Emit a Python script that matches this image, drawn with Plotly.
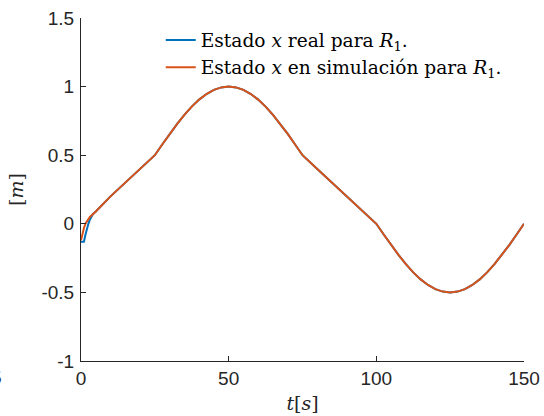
import plotly.graph_objects as go

# Time samples (s) and state values (m)
t_real = [0, 0.5, 1, 1.5, 2, 2.5, 3, 3.5, 4, 5, 10, 15, 20, 25,
          27.5, 30, 32.5, 35, 37.5, 40, 42.5, 45, 47.5, 50,
          52.5, 55, 57.5, 60, 62.5, 65, 67.5, 70, 72.5, 75,
          80, 85, 90, 95, 100,
          102.5, 105, 107.5, 110, 112.5, 115, 117.5, 120, 122.5, 125,
          127.5, 130, 132.5, 135, 137.5, 140, 142.5, 145, 147.5, 150]
x_real = [-0.13, -0.13, -0.13, -0.08, -0.03, 0.0, 0.03, 0.05, 0.07, 0.09, 0.2, 0.3, 0.4, 0.5,
          0.578, 0.655, 0.727, 0.794, 0.854, 0.905, 0.946, 0.976, 0.994, 1.0,
          0.994, 0.976, 0.946, 0.905, 0.854, 0.794, 0.727, 0.655, 0.578, 0.5,
          0.4, 0.3, 0.2, 0.1, 0.0,
          -0.078, -0.155, -0.227, -0.294, -0.354, -0.405, -0.446, -0.476, -0.494, -0.5,
          -0.494, -0.476, -0.446, -0.405, -0.354, -0.294, -0.227, -0.155, -0.078, 0.0]

t_sim = [0, 0.5, 1, 1.5, 2, 3, 4, 5, 10, 15, 20, 25,
         27.5, 30, 32.5, 35, 37.5, 40, 42.5, 45, 47.5, 50,
         52.5, 55, 57.5, 60, 62.5, 65, 67.5, 70, 72.5, 75,
         80, 85, 90, 95, 100,
         102.5, 105, 107.5, 110, 112.5, 115, 117.5, 120, 122.5, 125,
         127.5, 130, 132.5, 135, 137.5, 140, 142.5, 145, 147.5, 150]
x_sim = [-0.12, -0.07, -0.03, 0.0, 0.02, 0.05, 0.07, 0.09, 0.2, 0.3, 0.4, 0.5,
         0.578, 0.655, 0.727, 0.794, 0.854, 0.905, 0.946, 0.976, 0.994, 1.0,
         0.994, 0.976, 0.946, 0.905, 0.854, 0.794, 0.727, 0.655, 0.578, 0.5,
         0.4, 0.3, 0.2, 0.1, 0.0,
         -0.078, -0.155, -0.227, -0.294, -0.354, -0.405, -0.446, -0.476, -0.494, -0.5,
         -0.494, -0.476, -0.446, -0.405, -0.354, -0.294, -0.227, -0.155, -0.078, 0.0]

x_ticks = [0, 50, 100, 150]
y_ticks = [-1, -0.5, 0, 0.5, 1, 1.5]
y_tick_labels = ["-1", "-0.5", "0", "0.5", "1", "1.5"]

name_real = "Estado <i>x</i> real para <i>R</i><sub>1</sub>."
name_sim = "Estado <i>x</i> en simulación para <i>R</i><sub>1</sub>."

fig = go.Figure()
fig.add_trace(go.Scatter(x=t_real, y=x_real, mode="lines", name=name_real,
                         line=dict(color="#0072BD", width=2)))
fig.add_trace(go.Scatter(x=t_sim, y=x_sim, mode="lines", name=name_sim,
                         line=dict(color="#D95319", width=2)))

axis_col = "#262626"
fig.update_layout(
    width=544, height=416,
    margin=dict(l=81, r=20, t=18, b=55, autoexpand=False),
    plot_bgcolor="white", paper_bgcolor="white",
    showlegend=True,
    legend=dict(x=0.18, y=0.99, xanchor="left", yanchor="top",
                bgcolor="rgba(0,0,0,0)", borderwidth=0,
                font=dict(family="DejaVu Serif", size=18.6, color="black"),
                tracegroupgap=0, itemwidth=30),
    xaxis=dict(range=[0, 150], tickvals=x_ticks, ticks="inside", ticklen=5,
               tickcolor=axis_col, showline=True, linecolor=axis_col, linewidth=1,
               showgrid=False, zeroline=False, automargin=False,
               tickfont=dict(family="Liberation Sans", size=19, color=axis_col),
               title=dict(text="<i>t</i>[<i>s</i>]", standoff=8,
                          font=dict(family="DejaVu Serif", size=19, color=axis_col))),
    yaxis=dict(range=[-1, 1.5], tickvals=y_ticks, ticktext=y_tick_labels,
               ticks="inside", ticklen=5, ticklabelstandoff=2,
               tickcolor=axis_col, showline=True, linecolor=axis_col, linewidth=1,
               showgrid=False, zeroline=False, automargin=False,
               tickfont=dict(family="Liberation Sans", size=19, color=axis_col),
               title=dict(text="[<i>m</i>]", standoff=12,
                          font=dict(family="DejaVu Serif", size=19, color=axis_col))),
)

# clipped tick-label fragment at the far left edge of the reference image
fig.add_annotation(text="5", xref="paper", yref="paper",
                   x=(-4 - 81) / 443, y=(361 - 378) / 343,
                   xanchor="center", yanchor="middle", showarrow=False,
                   font=dict(family="Liberation Sans", size=19, color=axis_col))

fig.write_html("out.html")
